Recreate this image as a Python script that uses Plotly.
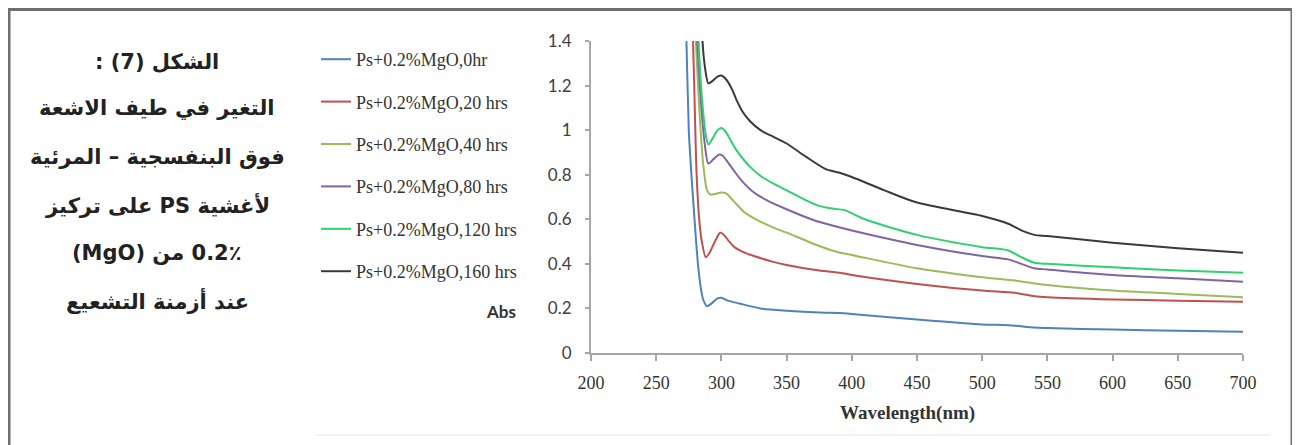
import plotly.graph_objects as go

# ---------------- data ----------------
series_names = [
    "Ps+0.2%MgO,0hr",
    "Ps+0.2%MgO,20 hrs",
    "Ps+0.2%MgO,40 hrs",
    "Ps+0.2%MgO,80 hrs",
    "Ps+0.2%MgO,120 hrs",
    "Ps+0.2%MgO,160 hrs",
]
series_colors = ["#4f81bd", "#c0504d", "#9bbb59", "#8064a2", "#2fcf72", "#3a3a3a"]

wl_0 = [270, 273, 275, 277, 280, 282, 284, 286, 289, 293, 297, 300, 305, 314, 330, 350, 375, 391, 400, 450, 500, 520, 540, 550, 600, 650, 700]
abs_0 = [2.2, 1.45, 1.0, 0.8, 0.55, 0.4, 0.3, 0.24, 0.21, 0.225, 0.245, 0.248, 0.235, 0.222, 0.2, 0.19, 0.182, 0.18, 0.175, 0.15, 0.128, 0.125, 0.114, 0.112, 0.105, 0.1, 0.095]

wl_20 = [274, 278, 280, 281, 283, 285, 288, 291, 295, 299, 302, 306, 310, 316, 325, 339, 350, 375, 391, 400, 450, 500, 525, 540, 550, 600, 650, 700]
abs_20 = [2.0, 1.45, 1.0, 0.8, 0.6, 0.5, 0.43, 0.45, 0.5, 0.54, 0.53, 0.5, 0.475, 0.455, 0.435, 0.41, 0.395, 0.37, 0.36, 0.35, 0.31, 0.28, 0.27, 0.255, 0.25, 0.24, 0.235, 0.23]

wl_40 = [276, 280, 283, 286, 289, 292, 296, 300, 304, 308, 312, 318, 328, 339, 350, 375, 391, 400, 450, 500, 525, 550, 600, 650, 700]
abs_40 = [2.0, 1.45, 1.1, 0.85, 0.73, 0.71, 0.715, 0.72, 0.715, 0.69, 0.665, 0.63, 0.595, 0.565, 0.54, 0.48, 0.45, 0.44, 0.38, 0.34, 0.325, 0.305, 0.28, 0.265, 0.25]

wl_80 = [277, 281, 284, 287, 290, 294, 298, 301, 305, 310, 316, 325, 335, 350, 370, 385, 400, 450, 500, 520, 530, 540, 550, 600, 650, 700]
abs_80 = [2.0, 1.45, 1.15, 0.95, 0.85, 0.87, 0.89, 0.885, 0.855, 0.815, 0.77, 0.72, 0.685, 0.645, 0.598, 0.572, 0.55, 0.485, 0.435, 0.42, 0.4, 0.38, 0.375, 0.35, 0.335, 0.32]

wl_120 = [278, 282, 285, 288, 290, 293, 297, 300, 303, 307, 311, 316, 322, 330, 340, 350, 365, 375, 385, 395, 410, 450, 500, 520, 530, 540, 550, 600, 650, 700]
abs_120 = [2.0, 1.45, 1.15, 0.98, 0.935, 0.96, 1.0, 1.01, 0.995, 0.955, 0.915, 0.875, 0.835, 0.795, 0.76, 0.73, 0.685, 0.66, 0.648, 0.64, 0.6, 0.53, 0.475, 0.46, 0.43, 0.405, 0.4, 0.385, 0.37, 0.36]

wl_160 = [282, 285, 287, 290, 293, 297, 300, 304, 308, 312, 316, 322, 330, 340, 350, 365, 380, 390, 400, 425, 450, 500, 520, 530, 540, 550, 600, 650, 700]
abs_160 = [2.0, 1.45, 1.3, 1.21, 1.22, 1.24, 1.245, 1.225, 1.185, 1.13, 1.085, 1.04, 1.0, 0.97, 0.94, 0.88, 0.825, 0.81, 0.79, 0.73, 0.675, 0.615, 0.58, 0.55, 0.53, 0.525, 0.495, 0.47, 0.45]

all_wl = [wl_0, wl_20, wl_40, wl_80, wl_120, wl_160]
all_abs = [abs_0, abs_20, abs_40, abs_80, abs_120, abs_160]

x_ticks = [200, 250, 300, 350, 400, 450, 500, 550, 600, 650, 700]
y_ticks = [0, 0.2, 0.4, 0.6, 0.8, 1, 1.2, 1.4]

caption_lines = [
    "الشكل (7) :",
    "التغير في طيف الاشعة",
    "فوق البنفسجية – المرئية",
    "لأغشية PS على تركيز",
    "0.2٪ من (MgO)",
    "عند أزمنة التشعيع",
]

# ---------------- figure ----------------
OFF = 8  # page body margin
W, H = 1300 - OFF, 445 - OFF
# plot area in screen pixels: x 591..1243, y 41..353
L, R, T, B = 591 - OFF, 1300 - 1243, 41 - OFF, 445 - 353
pw, ph = W - L - R, H - T - B


def px_x(p):
    return (p - OFF - L) / pw


def px_y(p):
    return (H - B - (p - OFF)) / ph


fig = go.Figure()
for i, (name, col, xs, ys) in enumerate(zip(series_names, series_colors, all_wl, all_abs)):
    fig.add_trace(go.Scatter(
        x=xs, y=ys, mode="lines", name=name,
        line=dict(color=col, width=2, shape="spline", smoothing=0.7),
        legendgroup=f"g{i}",
    ))

axis_col = "#a6a6a6"
fig.update_layout(
    width=W, height=H,
    margin=dict(l=L, r=R, t=T, b=B, autoexpand=False),
    paper_bgcolor="white", plot_bgcolor="white",
    showlegend=True,
    legend=dict(
        x=px_x(316), y=px_y(41), xanchor="left", yanchor="top",
        font=dict(family="Liberation Serif", size=18, color="#333333"),
        bgcolor="rgba(0,0,0,0)", traceorder="grouped", tracegroupgap=16,
        itemwidth=30,
    ),
    xaxis=dict(
        range=[200, 700], tickvals=x_ticks, ticks="outside", ticklen=6,
        tickcolor=axis_col, tickwidth=1.5, showline=True, linecolor=axis_col,
        linewidth=2, showgrid=False, zeroline=False,
        tickfont=dict(family="Liberation Serif", size=18, color="#333333"),
        ticklabelstandoff=6,
    ),
    yaxis=dict(
        range=[0, 1.4], tickvals=y_ticks, ticks="outside", ticklen=4,
        tickcolor=axis_col, tickwidth=1.5, showline=True, linecolor=axis_col,
        linewidth=2, showgrid=False, zeroline=False,
        tickfont=dict(family="Lato", size=17, color="#404040"),
        ticklabelstandoff=10,
    ),
)

# axis titles
fig.add_annotation(text="<b>Wavelength(nm)</b>", xref="paper", yref="paper",
                   x=px_x(907), y=px_y(413), xanchor="center", yanchor="middle",
                   showarrow=False, font=dict(family="Liberation Serif", size=19, color="#333333"))
fig.add_annotation(text="<b>Abs</b>", xref="paper", yref="paper",
                   x=px_x(501), y=px_y(311), xanchor="center", yanchor="middle",
                   showarrow=False, font=dict(family="Lato", size=17, color="#333333"))

# Arabic caption (right-to-left lines)
caption_y = [62, 108, 157, 205, 253, 300]
for line, yy in zip(caption_lines, caption_y):
    fig.add_annotation(text="\u202b" + line + "\u202c", xref="paper", yref="paper",
                       x=px_x(157), y=px_y(yy), xanchor="center", yanchor="middle",
                       showarrow=False,
                       font=dict(family="DejaVu Sans", size=21, color="#222222", weight="bold"))

# outer frame and faint chart-image edge
fig.add_shape(type="rect", xref="paper", yref="paper",
              x0=px_x(9), x1=px_x(1292), y0=px_y(470), y1=px_y(9.5),
              line=dict(color="#6e6e70", width=3), fillcolor="rgba(0,0,0,0)", layer="above")
fig.add_shape(type="line", xref="paper", yref="paper",
              x0=px_x(315), x1=px_x(1270), y0=px_y(435), y1=px_y(435),
              line=dict(color="#e6e6e6", width=1))

fig.write_html("out.html")
